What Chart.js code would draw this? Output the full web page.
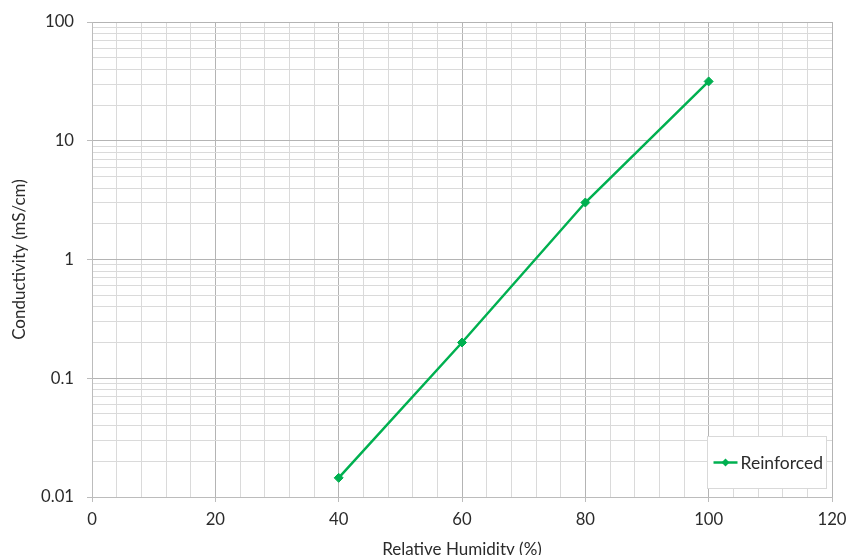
<!DOCTYPE html>
<html>
<head>
<meta charset="utf-8">
<script src="https://cdn.jsdelivr.net/npm/chart.js@4"></script>
<style>
  html, body { margin: 0; padding: 0; background: #ffffff; }
  #wrap { width: 850px; height: 555px; }
</style>
</head>
<body>
<div id="wrap"><canvas id="c" width="850" height="555"></canvas></div>
<script>
// ---- data ----
const seriesName = "Reinforced";
const humidity = [40, 60, 80, 100];
const conductivity = [0.0145, 0.2, 3.02, 31.6];

const xTickValues = [0, 20, 40, 60, 80, 100, 120];
const xMinorStep = 4;
const yTickValues = [0.01, 0.1, 1, 10, 100];
const yTickLabels = ["0.01", "0.1", "1", "10", "100"];

const xTitle = "Relative Humidity (%)";
const yTitle = "Conductivity (mS/cm)";

// ---- styles ----
const lineColor = "#00B050";
const majorGrid = "#b4b4b4";
const minorGrid = "#dadada";
const axisColor = "#bcbcbc";
const textColor = "#2b2b2b";
const fontFamily = "Lato, 'Open Sans', 'Liberation Sans', sans-serif";
const tickFontSize = 16.7;
const titleFontSize = 17;
const legendFontSize = 17.5;

function yAllTicks() {
  const out = [];
  for (let i = 0; i < yTickValues.length; i++) {
    const d = yTickValues[i];
    out.push({ value: d, major: true });
    if (i < yTickValues.length - 1) {
      for (let m = 2; m <= 9; m++) out.push({ value: +(d * m).toPrecision(6), major: false });
    }
  }
  return out;
}
function xAllTicks() {
  const out = [];
  const lo = xTickValues[0], hi = xTickValues[xTickValues.length - 1];
  for (let v = lo; v <= hi + 1e-9; v += xMinorStep) {
    out.push({ value: v, major: xTickValues.includes(v) });
  }
  return out;
}
const isYMajor = v => yTickValues.some(t => Math.abs(Math.log10(t) - Math.log10(v)) < 1e-6);
const isXMajor = v => xTickValues.includes(v);

const insideLegend = {
  id: 'insideLegend',
  afterDraw(chart) {
    const ctx = chart.ctx;
    const ca = chart.chartArea;
    const ds = chart.data.datasets[0];
    const w = 119, h = 52;
    const x = Math.round(ca.right - 6 - w) + 0.5;
    const y = Math.round(ca.bottom - 9 - h) + 0.5;
    ctx.save();
    ctx.fillStyle = '#ffffff';
    ctx.fillRect(x, y, w, h);
    ctx.strokeStyle = '#d9d9d9';
    ctx.lineWidth = 1;
    ctx.strokeRect(x, y, w, h);
    const cy = y + h / 2;
    ctx.strokeStyle = ds.borderColor;
    ctx.lineWidth = ds.borderWidth;
    ctx.beginPath();
    ctx.moveTo(x + 6, cy);
    ctx.lineTo(x + 30, cy);
    ctx.stroke();
    ctx.fillStyle = ds.pointBackgroundColor;
    ctx.beginPath();
    const r = 4;
    ctx.moveTo(x + 18, cy - r);
    ctx.lineTo(x + 18 + r, cy);
    ctx.lineTo(x + 18, cy + r);
    ctx.lineTo(x + 18 - r, cy);
    ctx.closePath();
    ctx.fill();
    ctx.fillStyle = textColor;
    ctx.font = legendFontSize + 'px ' + fontFamily;
    ctx.textBaseline = 'middle';
    ctx.textAlign = 'left';
    ctx.fillText(ds.label, x + 33, cy + 0.5);
    ctx.restore();
  }
};

new Chart(document.getElementById('c'), {
  type: 'line',
  data: {
    datasets: [{
      label: seriesName,
      data: humidity.map((h, i) => ({ x: h, y: conductivity[i] })),
      borderColor: lineColor,
      backgroundColor: lineColor,
      pointBackgroundColor: lineColor,
      pointBorderColor: lineColor,
      borderWidth: 2.5,
      pointStyle: 'rectRot',
      pointRadius: 4.5,
      pointBorderWidth: 1,
      tension: 0,
      fill: false
    }]
  },
  options: {
    responsive: false,
    animation: false,
    devicePixelRatio: 1,
    layout: { padding: { top: 22, right: 18, left: 0, bottom: 0 } },
    plugins: {
      legend: { display: false },
      tooltip: { enabled: false }
    },
    scales: {
      x: {
        type: 'linear',
        min: xTickValues[0],
        max: xTickValues[xTickValues.length - 1],
        afterBuildTicks: s => { s.ticks = xAllTicks(); },
        afterFit: s => { s.height = 58; s.paddingRight = 0; s.paddingLeft = 0; },
        ticks: {
          autoSkip: false,
          maxRotation: 0,
          padding: 8,
          color: textColor,
          font: { family: fontFamily, size: tickFontSize },
          callback: v => isXMajor(v) ? String(v) : ''
        },
        grid: {
          color: c => (c.tick && isXMajor(c.tick.value)) ? majorGrid : minorGrid,
          lineWidth: 1,
          drawTicks: true,
          tickLength: 5,
          tickColor: c => (c.tick && isXMajor(c.tick.value)) ? axisColor : 'rgba(0,0,0,0)'
        },
        border: { display: true, color: axisColor, width: 1 },
        title: {
          display: true,
          text: xTitle,
          color: textColor,
          font: { family: fontFamily, size: titleFontSize, lineHeight: 1 },
          padding: { top: 0, bottom: -3 }
        }
      },
      y: {
        type: 'logarithmic',
        min: yTickValues[0],
        max: yTickValues[yTickValues.length - 1],
        afterBuildTicks: s => { s.ticks = yAllTicks(); },
        afterFit: s => { s.width = 92; s.paddingTop = 0; s.paddingBottom = 0; },
        ticks: {
          autoSkip: false,
          padding: 13,
          color: textColor,
          font: { family: fontFamily, size: tickFontSize },
          callback: v => {
            const i = yTickValues.findIndex(t => Math.abs(Math.log10(t) - Math.log10(v)) < 1e-6);
            return i >= 0 ? yTickLabels[i] : '';
          }
        },
        grid: {
          color: c => (c.tick && isYMajor(c.tick.value)) ? majorGrid : minorGrid,
          lineWidth: 1,
          drawTicks: true,
          tickLength: 5,
          tickColor: c => (c.tick && isYMajor(c.tick.value)) ? axisColor : 'rgba(0,0,0,0)'
        },
        border: { display: true, color: axisColor, width: 1 },
        title: {
          display: true,
          text: yTitle,
          color: textColor,
          font: { family: fontFamily, size: titleFontSize },
          padding: { top: 9, bottom: 0 }
        }
      }
    }
  },
  plugins: [insideLegend]
});
</script>
</body>
</html>
